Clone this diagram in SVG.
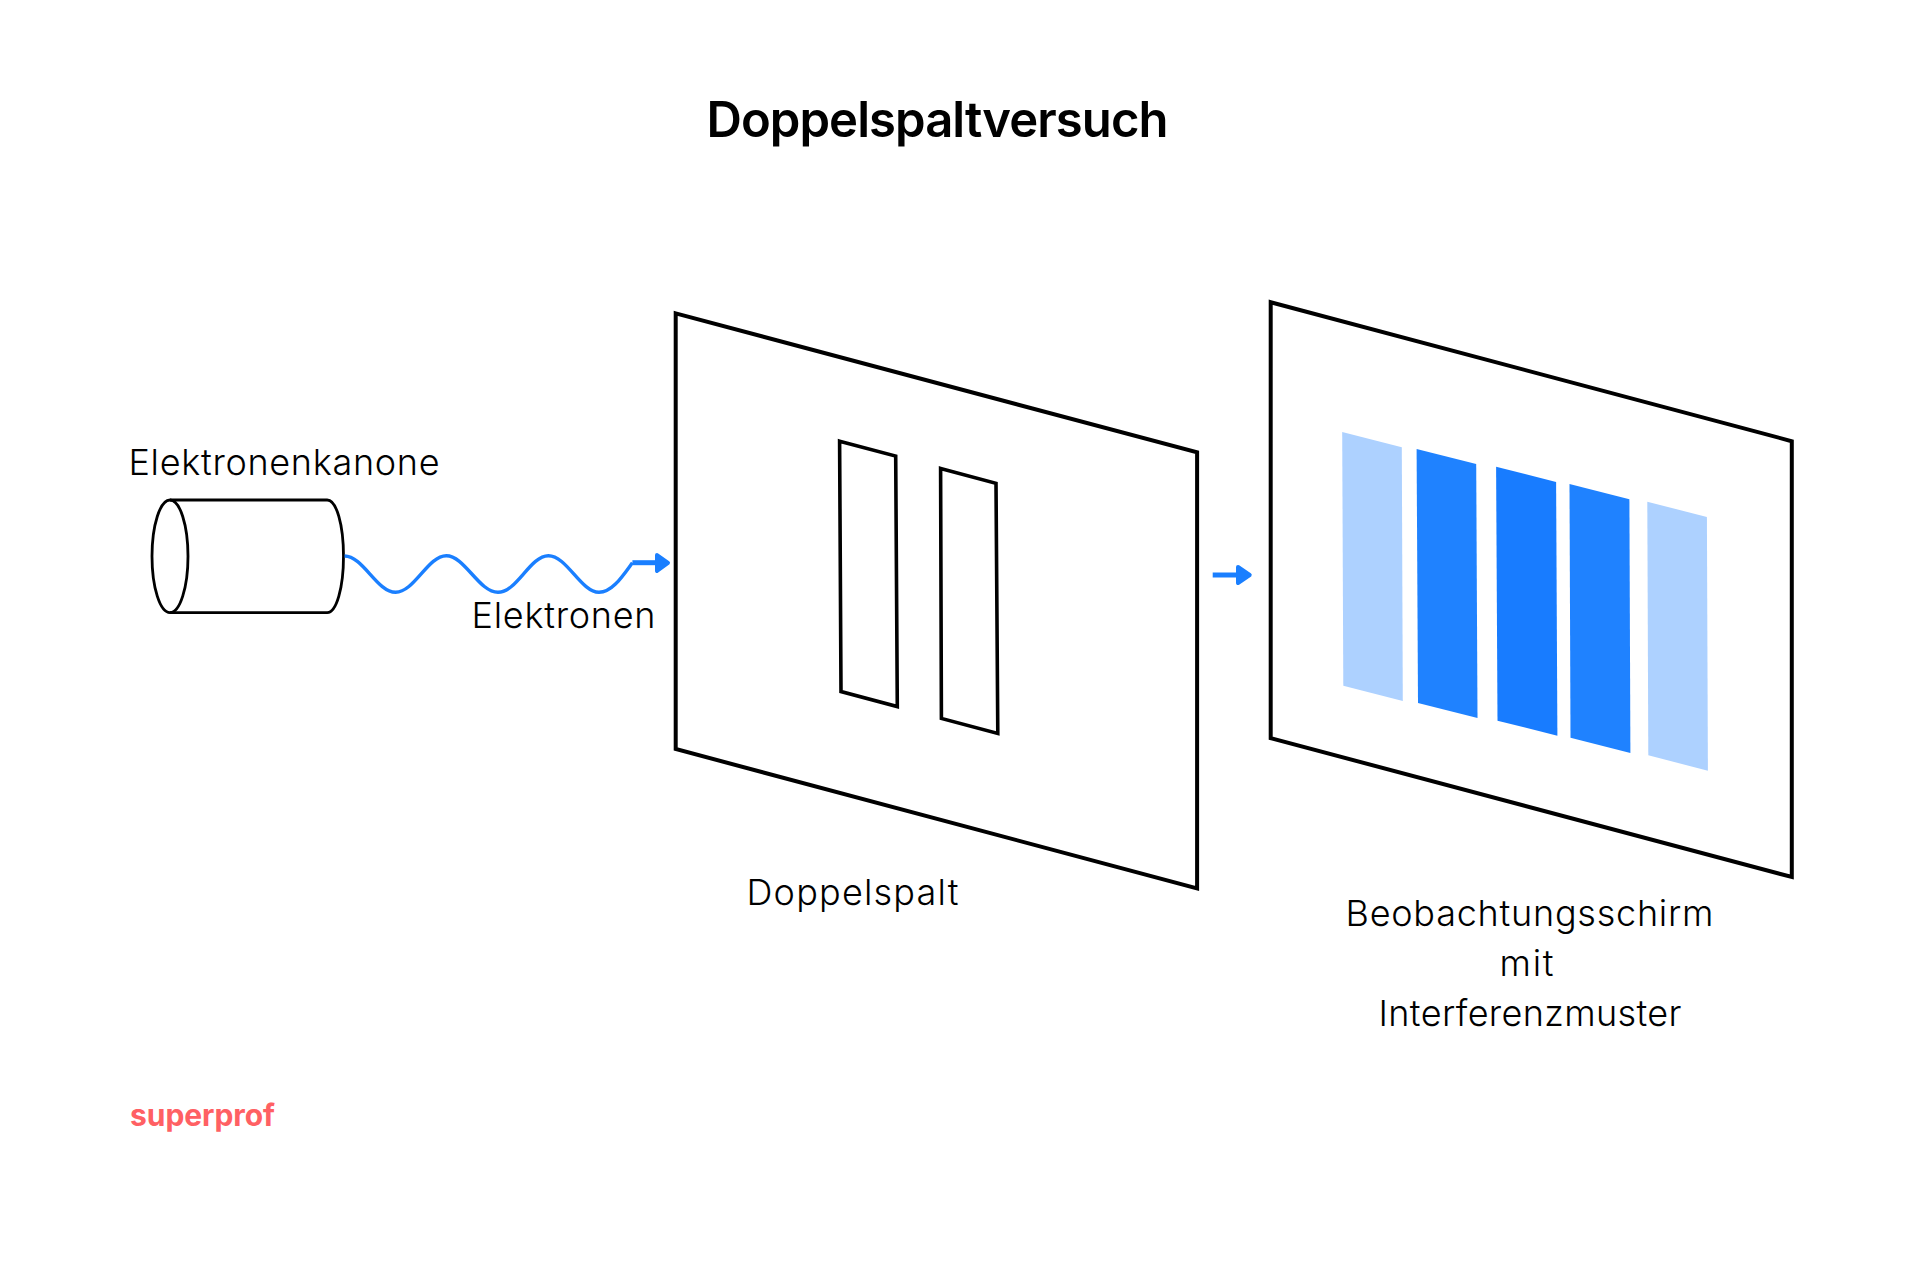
<svg xmlns="http://www.w3.org/2000/svg" width="1920" height="1280" viewBox="0 0 1920 1280">
<style>
text{font-family:"Inter","Liberation Sans",sans-serif;fill:#000}
.lbl{font-size:36px;font-weight:300}
.title{font-size:49px;font-weight:600}
.brand{font-size:30px;font-weight:700;fill:#ff6063}
.frame{fill:none;stroke:#000;stroke-width:4;stroke-linejoin:miter}
.slit{fill:none;stroke:#000;stroke-width:3.6}
.cyl{fill:none;stroke:#000;stroke-width:2.8}
.wave{fill:none;stroke:#1a7fff;stroke-width:3.4}
.shaft{stroke:#1a7fff;stroke-width:5;fill:none}
.head{fill:#1a7fff;stroke:#1a7fff;stroke-width:4;stroke-linejoin:round}
.light{fill:#add1ff}
.dark{fill:#1f82ff}
</style>
<rect width="1920" height="1280" fill="#fff"/>
<text id="title" class="title" x="706.5" y="137" textLength="462">Doppelspaltversuch</text>
<g id="elektronenkanone">
<path class="cyl" d="M170 500H327.2C336.5 500 343.5 525 343.5 556.3S336.5 612.7 327.2 612.7H170"/>
<ellipse class="cyl" cx="170" cy="556.3" rx="18" ry="56.3"/>
<text class="lbl" x="128.5" y="474.8" textLength="311">Elektronenkanone</text>
</g>
<g id="doppelspalt">
<polygon class="frame" points="675.7,313.4 1197.1,452.3 1197.1,888.4 675.7,749"/>
<polygon class="slit" points="839.6,441.2 895.7,456.1 897.3,706.6 841,691.6"/>
<polygon class="slit" points="940.6,468.4 996,483.3 997.8,733.4 941.4,718.4"/>
<text class="lbl" x="746.5" y="904.5" textLength="212">Doppelspalt</text>
</g>
<g id="schirm">
<polygon class="frame" points="1270.7,302.2 1791.8,441.2 1791.8,877 1270.7,738.1"/>
<polygon class="light" points="1342.2,432 1401.8,447.3 1402.8,701 1343.3,685.7"/>
<polygon class="dark" points="1416.6,449 1476.2,464 1477.5,718 1418,703"/>
<polygon class="dark" points="1496.1,466.7 1556.1,482 1557.4,735.7 1497.5,720.7" style="fill:#187cff"/>
<polygon class="dark" points="1569.5,484 1629.4,499.3 1630.4,753 1570.5,737.7"/>
<polygon class="light" points="1647.3,501.7 1706.9,517 1707.9,770.7 1648.3,755.3"/>
<text class="lbl" x="1345.5" y="925.7" textLength="368">Beobachtungsschirm</text>
<text class="lbl" x="1499.5" y="975.7" textLength="54">mit</text>
<text class="lbl" x="1378.5" y="1025.7" textLength="303">Interferenzmuster</text>
</g>
<g id="elektronen">
<text class="lbl" x="471.5" y="628.3" textLength="184">Elektronen</text>
</g>
<g id="connectors">
<path class="wave" d="M344.6 556C363 556 377 592.3 395.6 592.3S428 555.7 446.3 555.7S479 592.3 498 592.3S530 555.7 548.4 555.7S581 592.3 599 592.3C612 592.3 622 577 632.4 562.7"/>
<path class="shaft" d="M632.4 562.7H657"/>
<polygon class="head" points="657,555 668,562.9 657,571"/>
<path class="shaft" d="M1212.7 575H1238"/>
<polygon class="head" points="1238,567 1249.7,575 1238,583"/>
</g>
<text id="brand" class="brand" x="130" y="1126" textLength="145">superprof</text>
</svg>
